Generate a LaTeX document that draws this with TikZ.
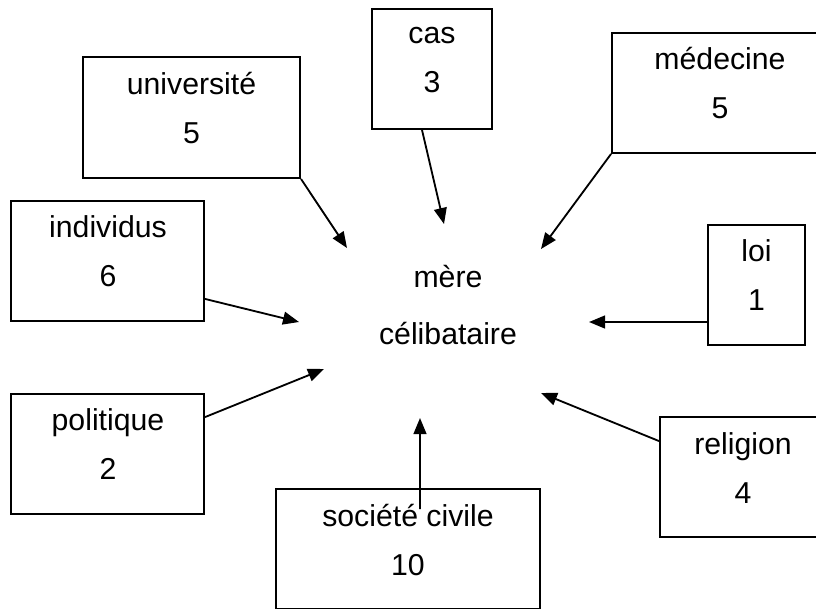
\documentclass[tikz,border=0pt]{standalone}
\usepackage{fontspec}
\setmainfont{Liberation Sans}
\usetikzlibrary{arrows.meta}

\begin{document}
\begin{tikzpicture}[x=0.025cm, y=-0.025cm,
    >={Triangle[length=0.4cm,width=0.32cm]}, line width=1.3pt,
    cadre/.style={draw, rectangle, minimum height=3cm, inner sep=0pt},
    etiq/.style={align=center, inner sep=0pt, font=\fontsize{21.5}{35}\selectfont}]
    \useasboundingbox (0,0) rectangle (816,608);

    % les cadres
    \node[cadre, minimum width=5.43cm, minimum height=3.03cm] (univ) at (191.5,117.5) {};
    \node[cadre, minimum width=3cm] (cas)  at (432,69)    {};
    \node[cadre, minimum width=5.4cm] (med) at (720,93)   {};
    \node[cadre, minimum width=4.83cm] (ind) at (107.5,261) {};
    \node[cadre, minimum width=4.83cm] (pol) at (107.5,454) {};
    \node[cadre, minimum width=2.43cm] (loi) at (756.5,285) {};
    \node[cadre, minimum width=4.15cm] (rel) at (743,477)  {};
    \node[cadre, minimum width=6.6cm] (soc)  at (408,549)  {};

    % les textes
    \node[etiq] (univ-t) at (191.5,108) {université\\5};
    \node[etiq] (cas-t)  at (432,60)    {cas\\3};
    \node[etiq] (med-t)  at (720,83)    {médecine\\5};
    \node[etiq] (ind-t)  at (108,251)   {individus\\6};
    \node[etiq] (pol-t)  at (108,444)   {politique\\2};
    \node[etiq] (loi-t)  at (756.5,275) {loi\\1};
    \node[etiq] (rel-t)  at (743,468)   {religion\\4};
    \node[etiq] (soc-t)  at (408,540)   {société civile\\10};
    \node[etiq, font=\fontsize{21.5}{41}\selectfont] (mc) at (448,305) {mère\\célibataire};

    % bouts des flèches
    \coordinate (f-univ) at (347,248);
    \coordinate (f-cas)  at (444,224);
    \coordinate (f-med)  at (541,249);
    \coordinate (f-ind)  at (299,322);
    \coordinate (f-pol)  at (324,369);
    \coordinate (f-loi)  at (589,322);
    \coordinate (f-rel)  at (541,393);
    \coordinate (f-soc)  at (420,418);

    % les flèches
    \draw[->] (univ.south east) -- (f-univ);
    \draw[->] ([xshift=-0.25cm]cas.south) -- (f-cas);
    \draw[->] (med.south west) -- (f-med);
    \draw[->] ([yshift=0.575cm]ind.south east) -- (f-ind);
    \draw[->] ([yshift=-0.6cm]pol.north east) -- (f-pol);
    \draw[->] (loi.west |- f-loi) -- (f-loi);
    \draw[->] ([yshift=-0.625cm]rel.north west) -- (f-rel);
    \draw[->] ([xshift=0.3cm,yshift=-0.525cm]soc.north) -- (f-soc);
  \end{tikzpicture}
\end{document}
